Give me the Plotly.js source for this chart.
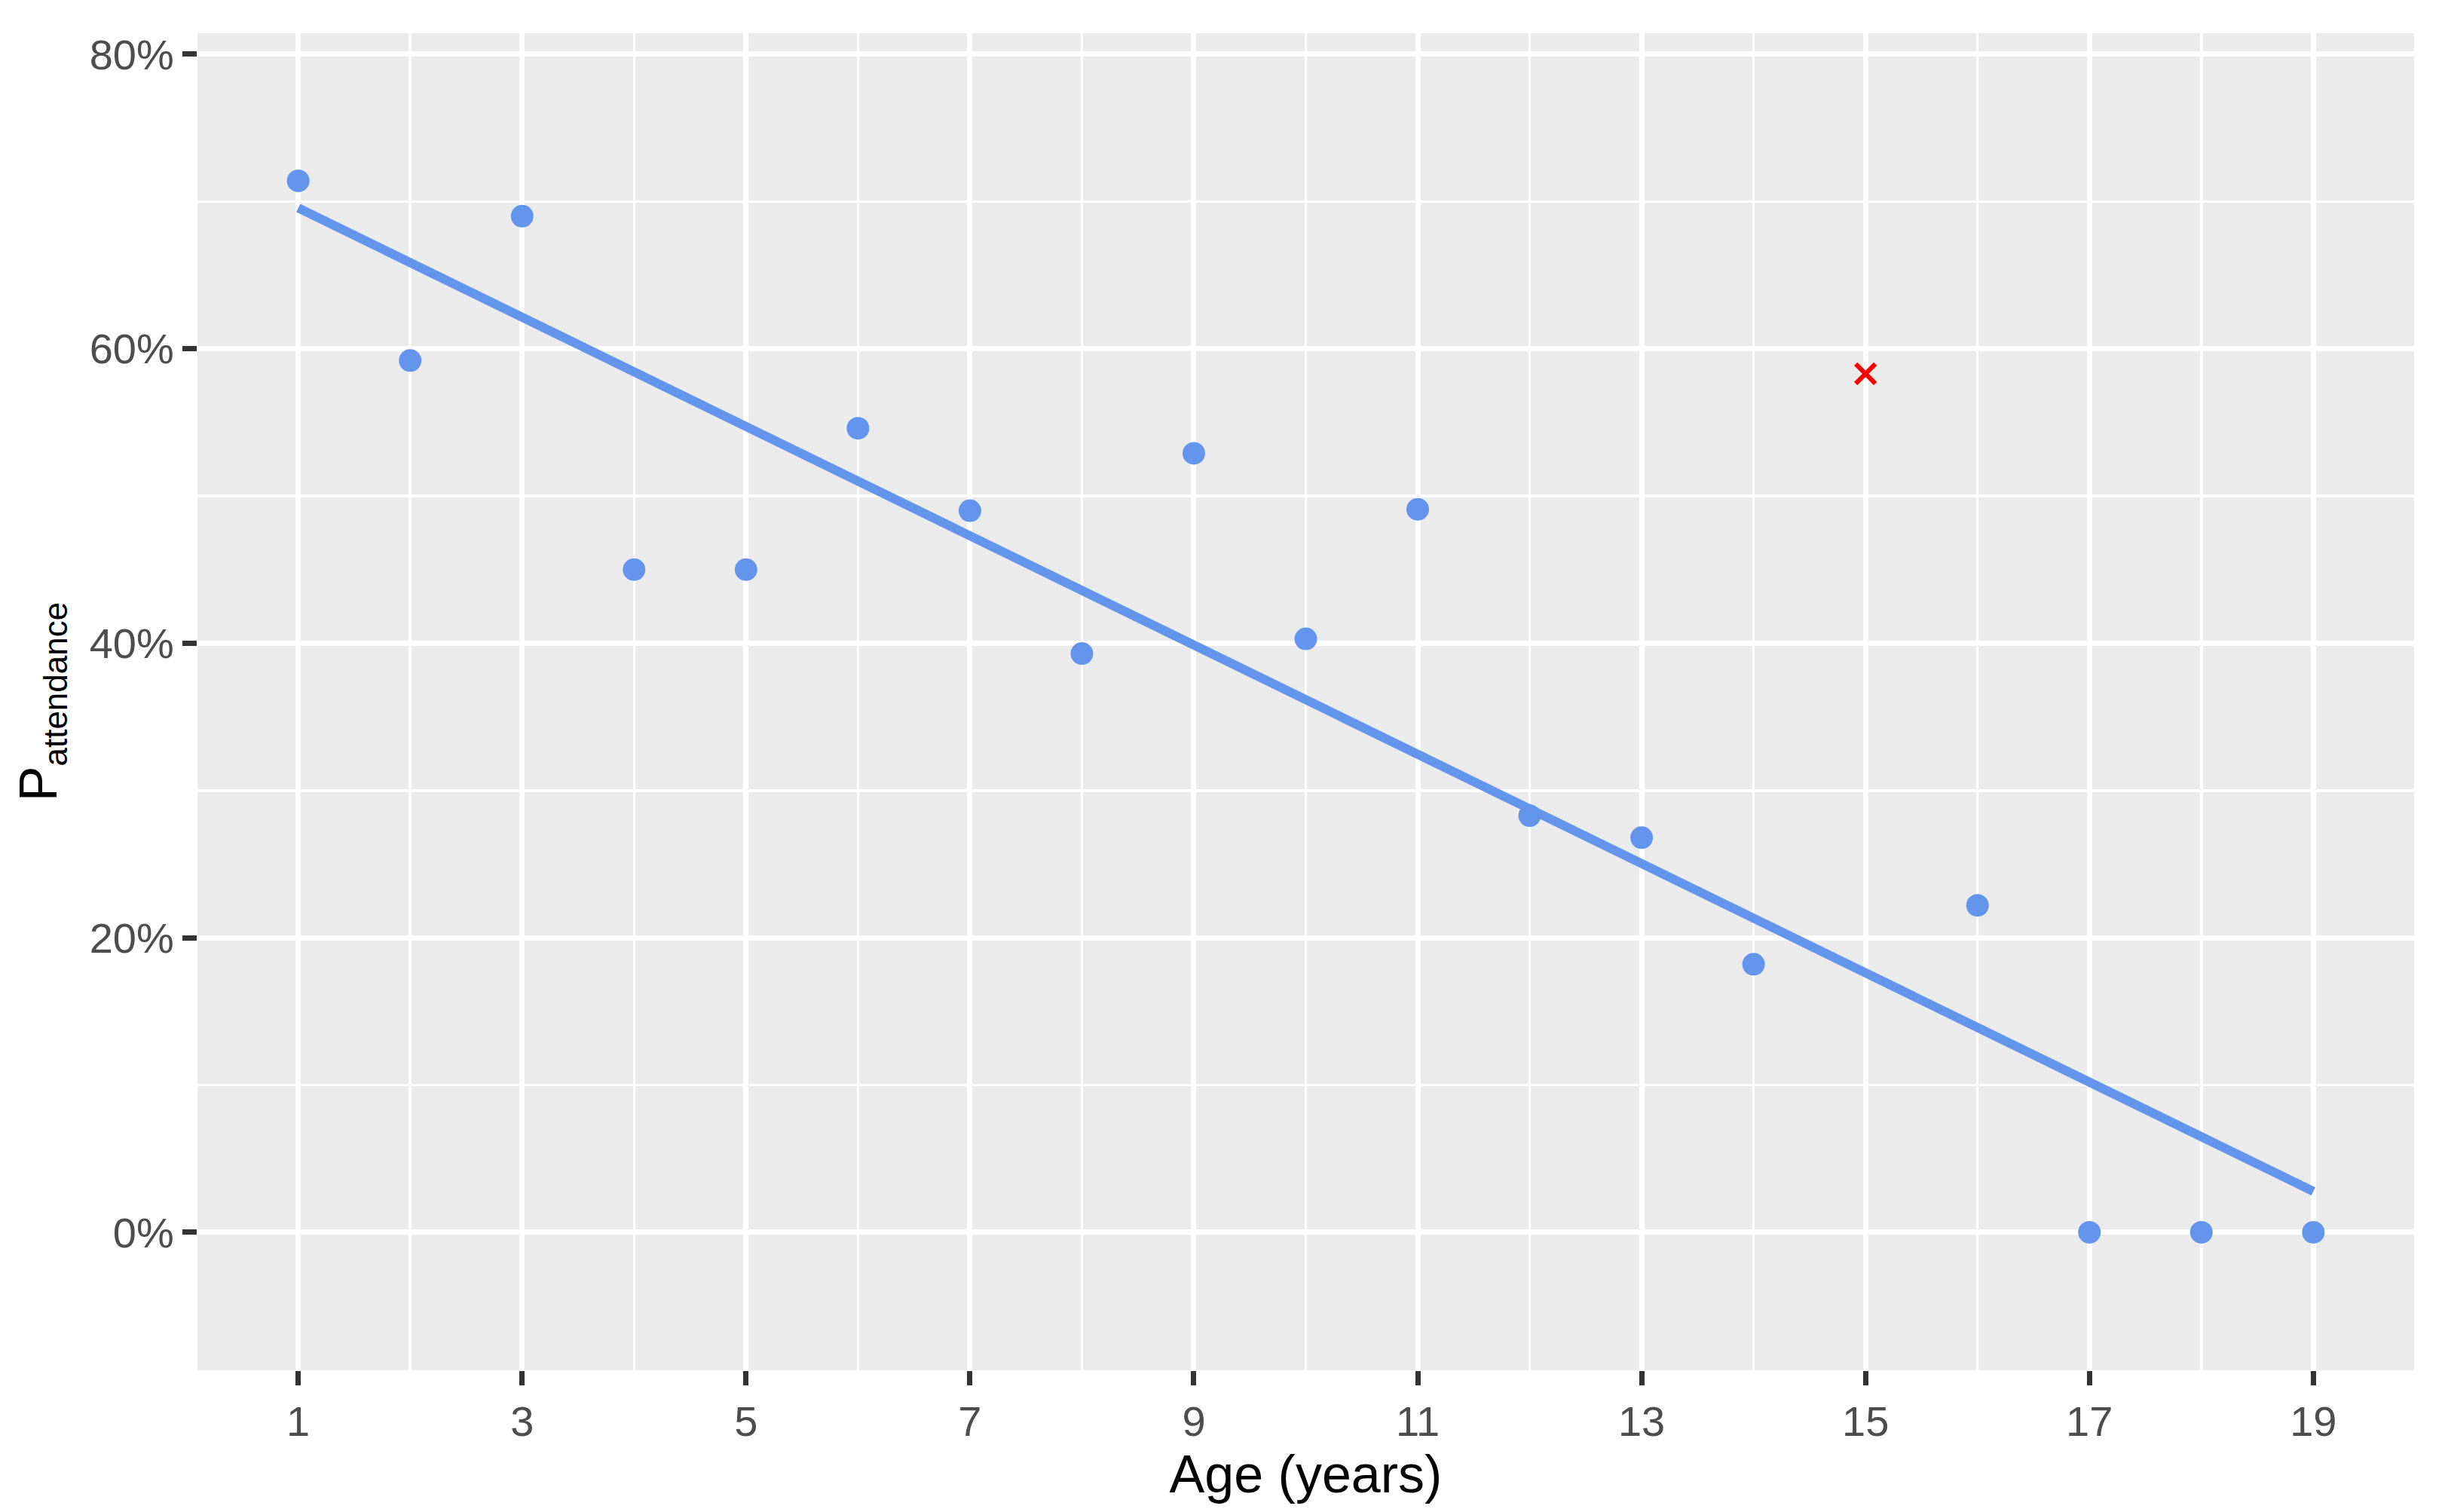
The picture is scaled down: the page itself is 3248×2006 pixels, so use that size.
<!DOCTYPE html>
<html>
<head>
<meta charset="utf-8">
<script src="https://cdn.plot.ly/plotly-3.0.1.min.js"></script>
<style>
  html, body { margin: 0; padding: 0; background: #ffffff; }
  #chart { width: 3248px; height: 2006px; }
</style>
</head>
<body>
<div id="chart"></div>
<script>
// ---- Data ----
const ages = [1, 2, 3, 4, 5, 6, 7, 8, 9, 10, 11, 12, 13, 14, 16, 17, 18, 19];
const attendance = [0.714, 0.592, 0.690, 0.450, 0.450, 0.546, 0.490, 0.393, 0.529, 0.403, 0.491, 0.283, 0.268, 0.182, 0.222, 0.0, 0.0, 0.0];

const outlierAge = [15];
const outlierAttendance = [0.583];

const trendAge = [1, 19];
const trendAttendance = [0.6956, 0.0278];

const xTickVals = [1, 3, 5, 7, 9, 11, 13, 15, 17, 19];
const yTickVals = [0, 0.2, 0.4, 0.6, 0.8];
const yTickText = ["0%", "20%", "40%", "60%", "80%"];

const FONT = "Liberation Sans, Arial, Helvetica, sans-serif";

const traces = [
  {
    x: ages, y: attendance, type: "scatter", mode: "markers",
    marker: { color: "#6495ED", size: 30, line: { width: 0 } },
    showlegend: false, hoverinfo: "x+y"
  },
  {
    x: outlierAge, y: outlierAttendance, type: "scatter", mode: "markers",
    marker: { symbol: "x-thin", color: "#FF0000", size: 26, line: { color: "#FF0000", width: 6 } },
    showlegend: false
  },
  {
    x: trendAge, y: trendAttendance, type: "scatter", mode: "lines",
    line: { color: "#6495ED", width: 12 },
    showlegend: false
  }
];

const layout = {
  width: 3248, height: 2006,
  paper_bgcolor: "#FFFFFF",
  plot_bgcolor: "#EBEBEB",
  margin: { l: 262, r: 45, t: 44, b: 188, pad: 0 },
  font: { family: FONT, color: "#000000" },
  showlegend: false,
  xaxis: {
    range: [0.1, 19.9],
    tickmode: "array", tickvals: xTickVals,
    ticks: "outside", ticklen: 19, tickwidth: 7, tickcolor: "#333333",
    tickfont: { family: FONT, size: 56, color: "#4D4D4D" },
    showgrid: true, gridcolor: "#FFFFFF", gridwidth: 7,
    minor: { tickmode: "linear", tick0: 0, dtick: 1, showgrid: true, gridcolor: "#FFFFFF", gridwidth: 3.5, ticks: "" },
    zeroline: false, showline: false,
    title: { text: "Age (years)", font: { family: FONT, size: 70, color: "#000000" }, standoff: 6 },
    automargin: false
  },
  yaxis: {
    range: [-0.0937, 0.8143],
    tickmode: "array", tickvals: yTickVals, ticktext: yTickText,
    ticks: "outside", ticklen: 19, tickwidth: 7, tickcolor: "#333333",
    tickfont: { family: FONT, size: 56, color: "#4D4D4D" },
    showgrid: true, gridcolor: "#FFFFFF", gridwidth: 7,
    minor: { tickmode: "linear", tick0: 0.1, dtick: 0.2, showgrid: true, gridcolor: "#FFFFFF", gridwidth: 3.5, ticks: "" },
    zeroline: false, showline: false,
    title: { text: "P<sub><span style=\"font-size:44px\">attendance</span></sub>", font: { family: FONT, size: 70, color: "#000000" }, standoff: 20 },
    automargin: false
  }
};

Plotly.newPlot("chart", traces, layout, { staticPlot: true, displayModeBar: false });
</script>
</body>
</html>
